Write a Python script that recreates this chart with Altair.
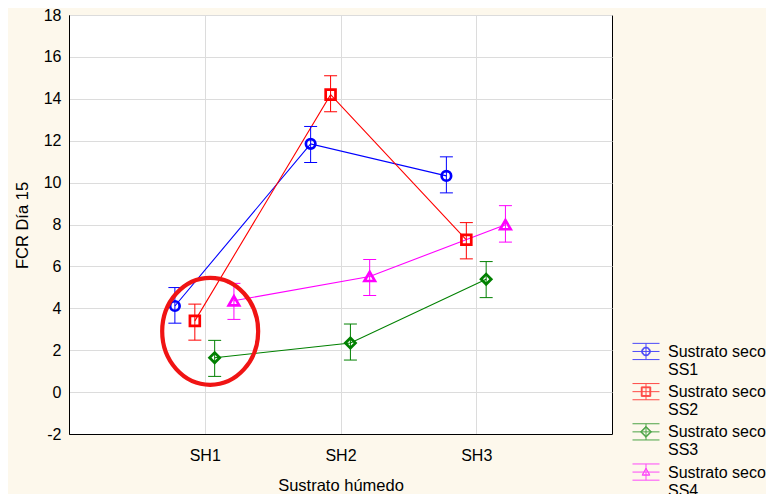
import altair as alt
import pandas as pd

# ---- data ----
categories = ["SH1", "SH2", "SH3"]
series = ["SS1", "SS2", "SS3", "SS4"]

ss1_mean = [4.11, 11.85, 10.32]
ss1_low = [3.29, 10.96, 9.51]
ss1_high = [4.99, 12.68, 11.23]

ss2_mean = [3.40, 14.20, 7.27]
ss2_low = [2.48, 13.38, 6.36]
ss2_high = [4.20, 15.10, 8.09]

ss3_mean = [1.64, 2.34, 5.39]
ss3_low = [0.75, 1.53, 4.51]
ss3_high = [2.47, 3.25, 6.23]

ss4_mean = [4.36, 5.52, 7.99]
ss4_low = [3.47, 4.61, 7.16]
ss4_high = [5.19, 6.33, 8.90]

# horizontal dodge of each series around its category
dodge = [-0.22, -0.073, 0.073, 0.215]

# red ellipse annotation (category units, y units)
ellipse_center = [1.04, 2.9]

colors = ["#0000FF", "#FF0000", "#008000", "#FF00FF"]

means = [ss1_mean, ss2_mean, ss3_mean, ss4_mean]
lows = [ss1_low, ss2_low, ss3_low, ss4_low]
highs = [ss1_high, ss2_high, ss3_high, ss4_high]

rows = []
for s_i, s in enumerate(series):
    for c_i, c in enumerate(categories):
        rows.append({
            "series": s,
            "cat": c,
            "order": c_i,
            "x": c_i + 1 + dodge[s_i],
            "mean": means[s_i][c_i],
            "low": lows[s_i][c_i],
            "high": highs[s_i][c_i],
        })
df = pd.DataFrame(rows)

FONT = "Liberation Sans"

x_scale = alt.Scale(domain=[0, 4], nice=False, zero=False)
y_scale = alt.Scale(domain=[-2, 18], nice=False, zero=False)

label_expr = "[" + ",".join("'%s'" % c for c in categories) + "][datum.value - 1]"

x_axis = alt.Axis(
    values=[1, 2, 3], labelExpr=label_expr, grid=True, ticks=False,
    labelPadding=13, title="Sustrato húmedo", titleX=271.5, titleY=56,
    titleBaseline="alphabetic", titleAlign="center",
)
y_axis = alt.Axis(
    values=list(range(-2, 19, 2)), labelExpr="'' + datum.value",
    grid=True, ticks=False, labelPadding=8,
    title="FCR Día 15", titleX=-47, titleY=210, titleAngle=270,
    titleBaseline="middle", titleAlign="center",
)

color_plot = alt.Color("series:N", scale=alt.Scale(domain=series, range=colors), legend=None)

base = alt.Chart(df)

lines = base.mark_line(strokeWidth=1.1).encode(
    x=alt.X("x:Q", scale=x_scale, axis=x_axis),
    y=alt.Y("mean:Q", scale=y_scale, axis=y_axis),
    color=color_plot,
    detail="series:N",
    order="order:Q",
)

bars = base.mark_rule(strokeWidth=1).encode(
    x="x:Q", y="low:Q", y2="high:Q", color=color_plot,
)
caps_low = base.mark_tick(orient="horizontal", thickness=1, size=13, opacity=1).encode(
    x="x:Q", y="low:Q", color=color_plot,
)
caps_high = base.mark_tick(orient="horizontal", thickness=1, size=13, opacity=1).encode(
    x="x:Q", y="high:Q", color=color_plot,
)

points = base.mark_point(filled=False, opacity=1, fill="white", fillOpacity=0).encode(
    x="x:Q", y="mean:Q", color=color_plot,
    shape=alt.Shape("series:N", scale=alt.Scale(domain=series,
                    range=["circle", "square", "diamond", "triangle-up"]), legend=None),
    size=alt.Size("series:N", scale=alt.Scale(domain=series, range=[90, 110, 80, 48]), legend=None),
    strokeWidth=alt.StrokeWidth("series:N", scale=alt.Scale(domain=series, range=[2.7, 2.7, 2.4, 1.5]), legend=None),
)

ell_df = pd.DataFrame({"x": [ellipse_center[0]], "y": [ellipse_center[1]]})
ellipse = alt.Chart(ell_df).mark_point(
    shape="M-0.897,0A0.897,1,0,1,0,0.897,0A0.897,1,0,1,0,-0.897,0",
    size=11449, filled=False, stroke="#F01414", strokeWidth=4.2, opacity=1,
).encode(x="x:Q", y="y:Q")

plot = alt.layer(lines, bars, caps_low, caps_high, points, ellipse)

# ---- legend layer (no visible marks, it only carries the legend) ----
DY = -0.41  # lift the symbol so it lines up with the first label line


def frame():
    return "M-1,%.3fH1M-1,%.3fH1M-1,%.3fH1M0,%.3fV%.3f" % (DY, DY - 0.6, DY + 0.6, DY - 0.6, DY + 0.6)


def rings(r_list):
    return "".join("M%.3f,%.3fA%.3f,%.3f,0,1,0,%.3f,%.3fA%.3f,%.3f,0,1,0,%.3f,%.3f"
                   % (-r, DY, r, r, r, DY, r, r, -r, DY) for r in r_list)


def squares(r_list):
    return "".join("M%.3f,%.3fH%.3fV%.3fH%.3fZ" % (-r, DY - r, r, DY + r, -r) for r in r_list)


def diamonds(r_list):
    return "".join("M0,%.3fL%.3f,%.3fL0,%.3fL%.3f,%.3fZ" % (DY - r, r, DY, DY + r, -r, DY) for r in r_list)


def triangles(r_list):
    return "".join("M0,%.3fL%.3f,%.3fL%.3f,%.3fZ" % (DY - r, r, DY + r * 0.8, -r, DY + r * 0.8) for r in r_list)


legend_shapes = [
    frame() + rings([0.26, 0.29, 0.32]),
    frame() + squares([0.29, 0.32, 0.35]),
    frame() + diamonds([0.33, 0.37, 0.41]),
    frame() + triangles([0.26, 0.29]),
]

legend_props = dict(
    orient="none", legendX=563, legendY=328, title=None,
    symbolSize=729, symbolStrokeWidth=1,
    labelFont=FONT, labelFontSize=16, labelColor="black", labelLimit=500,
    labelExpr="['Sustrato seco', datum.label]", labelOffset=8,
    rowPadding=3.2, padding=0, labelBaseline="alphabetic",
)

legend_layer = base.transform_filter("false").mark_point(filled=False, strokeWidth=1).encode(
    x="x:Q", y="mean:Q",
    color=alt.Color("series:N", scale=alt.Scale(domain=series, range=colors),
                    legend=alt.Legend(**legend_props)),
    shape=alt.Shape("series:N", scale=alt.Scale(domain=series, range=legend_shapes),
                    legend=alt.Legend(**legend_props)),
)

chart = alt.layer(plot, legend_layer).resolve_scale(
    color="independent", shape="independent"
).properties(
    width=543, height=419,
    autosize=alt.AutoSizeParams(type="none"),
    padding={"left": 61, "top": 7, "right": 154, "bottom": 60},
    background="#FDF8EC",
).configure_view(
    fill="white", stroke="black", strokeWidth=1,
).configure_axis(
    labelFont=FONT, titleFont=FONT, labelFontSize=16, titleFontSize=16.5,
    labelColor="black", titleColor="black", titleFontWeight="normal",
    domainColor="black", domainWidth=1, gridColor="#DCDCDC", gridWidth=1,
)

chart.save("out.html", embed_options={"renderer": "svg", "actions": False})
